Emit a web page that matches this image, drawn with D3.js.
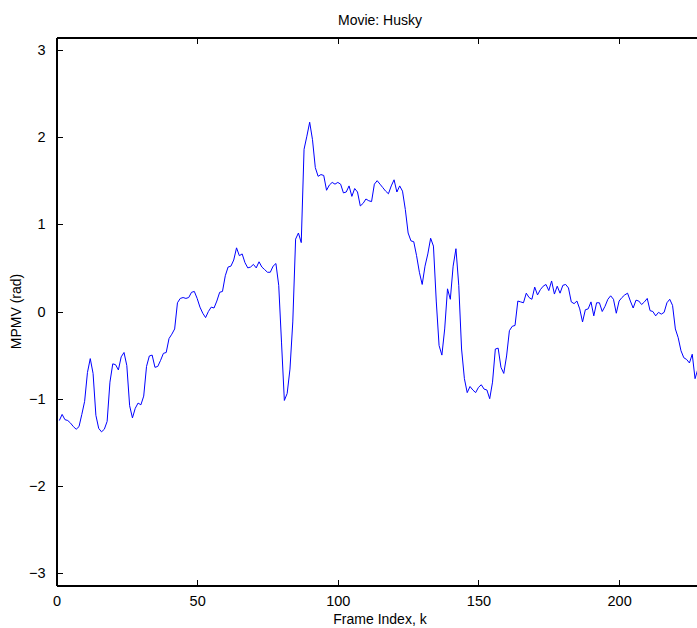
<!DOCTYPE html>
<html>
<head>
<meta charset="utf-8">
<script src="https://cdnjs.cloudflare.com/ajax/libs/d3/7.8.5/d3.min.js"></script>
<style>
  body { margin: 0; background: #fff; }
  text { font-family: "Liberation Sans", Arial, sans-serif; fill: #000; }
</style>
</head>
<body>
<div id="chart"></div>
<script>
// MPMV per frame, frames 1..228
var mpmv = [
  -1.25, -1.18, -1.24, -1.25, -1.28, -1.32, -1.35, -1.32, -1.18, -1.03,
  -0.70, -0.54, -0.71, -1.19, -1.34, -1.38, -1.35, -1.26, -0.81, -0.60,
  -0.61, -0.67, -0.52, -0.47, -0.62, -1.08, -1.22, -1.11, -1.05, -1.07,
  -0.97, -0.63, -0.51, -0.50, -0.64, -0.63, -0.56, -0.48, -0.47, -0.31,
  -0.26, -0.20, 0.10, 0.15, 0.16, 0.15, 0.16, 0.22, 0.23, 0.15,
  0.05, -0.02, -0.07, 0.00, 0.05, 0.04, 0.12, 0.22, 0.23, 0.41,
  0.51, 0.52, 0.59, 0.73, 0.64, 0.66, 0.56, 0.50, 0.51, 0.54,
  0.50, 0.57, 0.51, 0.48, 0.45, 0.45, 0.52, 0.55, 0.30, -0.36,
  -1.02, -0.94, -0.66, -0.12, 0.83, 0.90, 0.79, 1.86, 2.01, 2.17,
  1.97, 1.65, 1.55, 1.57, 1.56, 1.39, 1.45, 1.48, 1.46, 1.48,
  1.46, 1.36, 1.37, 1.44, 1.32, 1.41, 1.37, 1.21, 1.24, 1.29,
  1.27, 1.26, 1.46, 1.50, 1.46, 1.42, 1.38, 1.35, 1.44, 1.51,
  1.37, 1.44, 1.38, 1.17, 0.90, 0.81, 0.80, 0.64, 0.45, 0.31,
  0.52, 0.66, 0.84, 0.75, 0.12, -0.39, -0.50, -0.20, 0.26, 0.14,
  0.52, 0.72, 0.30, -0.43, -0.77, -0.93, -0.86, -0.90, -0.93, -0.87,
  -0.84, -0.89, -0.90, -1.00, -0.81, -0.43, -0.42, -0.64, -0.71, -0.51,
  -0.22, -0.17, -0.16, 0.12, 0.11, 0.10, 0.21, 0.16, 0.14, 0.28,
  0.19, 0.25, 0.29, 0.31, 0.24, 0.35, 0.20, 0.29, 0.21, 0.30,
  0.31, 0.27, 0.11, 0.09, 0.12, 0.03, -0.12, 0.02, 0.03, 0.11,
  -0.05, 0.10, 0.10, 0.00, 0.06, 0.14, 0.18, 0.14, -0.02, 0.12,
  0.16, 0.19, 0.21, 0.12, 0.04, 0.13, 0.12, 0.08, 0.11, 0.15,
  0.01, 0.00, -0.05, -0.01, -0.03, -0.01, 0.10, 0.14, 0.07, -0.20,
  -0.30, -0.45, -0.53, -0.55, -0.59, -0.49, -0.77, -0.66
];
var xTicks = [0, 50, 100, 150, 200];
var yTicks = [-3, -2, -1, 0, 1, 2, 3];
var xDomain = [0, 230];
var yDomain = [-Math.PI, Math.PI];

var width = 697;
var height = 628;
var box = { left: 56.5, top: 37.5, right: 703.5, bottom: 585.5 };

var svg = d3.select('#chart').append('svg')
    .attr('width', width)
    .attr('height', height);

svg.append('rect')
    .attr('width', width)
    .attr('height', height)
    .attr('fill', '#fff');

var x = d3.scaleLinear().domain(xDomain).range([box.left, box.right]);
var y = d3.scaleLinear().domain(yDomain).range([box.bottom, box.top]);

var fmt = function(d){ return String(d).replace('-', '\u2212'); };

// bottom + top axes, ticks pointing inward
svg.append('g')
    .attr('transform', 'translate(0,' + box.bottom + ')')
    .call(d3.axisBottom(x).tickValues(xTicks).tickSizeInner(-6).tickSizeOuter(0).tickPadding(10).tickFormat(fmt));
svg.append('g')
    .attr('transform', 'translate(0,' + box.top + ')')
    .call(d3.axisTop(x).tickValues(xTicks).tickSizeInner(-6).tickSizeOuter(0).tickFormat(''));
svg.append('g')
    .attr('transform', 'translate(' + box.left + ',0)')
    .call(d3.axisLeft(y).tickValues(yTicks).tickSizeInner(-6).tickSizeOuter(0).tickPadding(11).tickFormat(fmt));
svg.append('g')
    .attr('transform', 'translate(' + box.right + ',0)')
    .call(d3.axisRight(y).tickValues(yTicks).tickSizeInner(-6).tickSizeOuter(0).tickFormat(''));

svg.selectAll('.domain')
    .attr('stroke', '#000')
    .attr('stroke-width', 1.5)
    .attr('shape-rendering', 'crispEdges');
svg.selectAll('.tick line').attr('stroke', '#000').attr('shape-rendering', 'crispEdges');
svg.selectAll('.tick text')
    .attr('font-size', '14.5px')
    .attr('font-family', '"Liberation Sans", Arial, sans-serif')
    .attr('fill', '#000');

var line = d3.line()
    .x(function(d, i){ return x(i + 1); })
    .y(function(d){ return y(d); });

svg.append('path')
    .datum(mpmv)
    .attr('fill', 'none')
    .attr('stroke', '#0000ff')
    .attr('stroke-width', 1)
    .attr('d', line);

svg.append('text')
    .attr('x', (box.left + box.right) / 2)
    .attr('y', 25)
    .attr('text-anchor', 'middle')
    .attr('font-size', '14px')
    .text('Movie: Husky');

svg.append('text')
    .attr('x', (box.left + box.right) / 2)
    .attr('y', 624)
    .attr('text-anchor', 'middle')
    .attr('font-size', '14px')
    .text('Frame Index, k');

svg.append('text')
    .attr('transform', 'translate(21,' + (box.top + box.bottom) / 2 + ') rotate(-90)')
    .attr('text-anchor', 'middle')
    .attr('font-size', '14px')
    .text('MPMV (rad)');
</script>
</body>
</html>
